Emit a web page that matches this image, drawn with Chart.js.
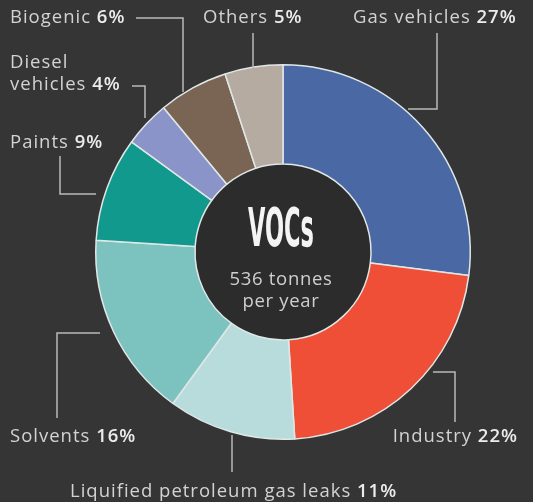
<!DOCTYPE html>
<html>
<head>
<meta charset="utf-8">
<script src="https://cdn.jsdelivr.net/npm/chart.js@4/dist/chart.umd.min.js"></script>
<style>
  html, body { margin: 0; padding: 0; background: #353535; }
  #wrap { width: 533px; height: 502px; position: relative; }
</style>
</head>
<body>
<div id="wrap"><canvas id="vocs" width="533" height="502"></canvas></div>
<script>
// VOC sources, clockwise from 12 o'clock
const sources = ['Gas vehicles', 'Industry', 'Liquified petroleum gas leaks', 'Solvents', 'Paints', 'Diesel vehicles', 'Biogenic', 'Others'];
const shares = [27, 22, 11, 16, 9, 4, 6, 5];
const colours = ['#4a69a4', '#ee4f36', '#b8dcdc', '#7cc3bf', '#11998d', '#8a94c8', '#7a6454', '#b6aba1'];

const totalTonnes = 536;

// label placement (left/right x, middle y) and leader lines
const labelLayout = [
  { name: 'Gas vehicles', x: 353, y: 18, align: 'left', line: [[437, 33], [437, 109], [408, 109]] },
  { name: 'Industry', x: 518, y: 437, align: 'right', line: [[433, 372], [455, 372], [455, 422]] },
  { name: 'Liquified petroleum gas leaks', x: 70, y: 492, align: 'left', line: [[232, 435], [232, 472]] },
  { name: 'Solvents', x: 10, y: 437, align: 'left', line: [[100, 333], [57, 333], [57, 418]] },
  { name: 'Paints', x: 10, y: 143, align: 'left', line: [[60, 156], [60, 194], [96, 194]] },
  { name: 'Diesel vehicles', x: 10, y: 63, align: 'left', split: ['Diesel', 'vehicles'], line: [[132, 86], [145, 86], [145, 118]] },
  { name: 'Biogenic', x: 10, y: 18, align: 'left', line: [[136, 18], [183, 18], [183, 92]] },
  { name: 'Others', x: 203, y: 18, align: 'left', line: [[253, 33], [253, 68]] }
];

const FONT = '"Open Sans", sans-serif';
const SIZE = 18.5;

// draw a "Name NN%" line with bold value
function drawLabel(ctx, name, value, x, y, align) {
  const normal = SIZE + 'px ' + FONT;
  const bold = '600 ' + SIZE + 'px ' + FONT;
  ctx.font = normal;
  const nameW = ctx.measureText(name + ' ').width;
  ctx.font = bold;
  const valW = ctx.measureText(value).width;
  let left = align === 'right' ? x - nameW - valW : x;
  ctx.font = normal;
  ctx.fillStyle = '#d3d3d3';
  ctx.fillText(name + ' ', left, y);
  ctx.font = bold;
  ctx.fillStyle = '#ececec';
  ctx.fillText(value, left + nameW, y);
  return left + nameW + valW;
}

const calloutPlugin = {
  id: 'callouts',
  beforeDatasetsDraw(chart) {
    // darker hole
    const arc = chart.getDatasetMeta(0).data[0];
    const ctx = chart.ctx;
    ctx.save();
    ctx.fillStyle = '#2c2c2c';
    ctx.beginPath();
    ctx.arc(arc.x, arc.y, arc.innerRadius, 0, Math.PI * 2);
    ctx.fill();
    ctx.restore();
  },
  afterDraw(chart) {
    const ctx = chart.ctx;
    const arc = chart.getDatasetMeta(0).data[0];
    ctx.save();
    ctx.textBaseline = 'middle';
    ctx.textAlign = 'left';
    ctx.letterSpacing = '1px';

    labelLayout.forEach(l => {
      const i = sources.indexOf(l.name);
      const val = shares[i] + '%';
      if (l.split) {
        ctx.font = SIZE + 'px ' + FONT;
        ctx.fillStyle = '#d3d3d3';
        ctx.fillText(l.split[0], l.x, l.y);
        drawLabel(ctx, l.split[1], val, l.x, l.y + 22, l.align);
      } else {
        drawLabel(ctx, l.name, val, l.x, l.y, l.align);
      }
      ctx.strokeStyle = '#b9b9b9';
      ctx.lineWidth = 1.5;
      ctx.beginPath();
      l.line.forEach((p, k) => k ? ctx.lineTo(p[0], p[1]) : ctx.moveTo(p[0], p[1]));
      ctx.stroke();
    });

    // centre title
    const cx = arc.x - 2;
    ctx.letterSpacing = '0px';
    ctx.textAlign = 'center';
    ctx.fillStyle = '#f4f4f4';
    ctx.font = 'bold 54px "Liberation Sans Narrow", "DejaVu Sans Condensed", sans-serif';
    const w = ctx.measureText('VOCs').width;
    ctx.save();
    ctx.translate(cx, arc.y - 20);
    ctx.scale(66 / w, 1);
    ctx.fillText('VOCs', 0, 0);
    ctx.restore();

    ctx.letterSpacing = '0.7px';
    ctx.font = SIZE + 'px ' + FONT;
    ctx.fillStyle = '#cfcfcf';
    ctx.fillText(totalTonnes + ' tonnes', cx, arc.y + 28);
    ctx.fillText('per year', cx, arc.y + 50);
    ctx.restore();
  }
};

new Chart(document.getElementById('vocs'), {
  type: 'doughnut',
  data: {
    labels: sources,
    datasets: [{
      data: shares,
      backgroundColor: colours,
      borderColor: '#dfe7e7',
      borderWidth: 1.5
    }]
  },
  options: {
    responsive: false,
    animation: false,
    cutout: '47%',
    layout: { padding: { left: 95, right: 62, top: 64, bottom: 62 } },
    plugins: {
      legend: { display: false },
      tooltip: { enabled: false }
    }
  },
  plugins: [calloutPlugin]
});
</script>
</body>
</html>
